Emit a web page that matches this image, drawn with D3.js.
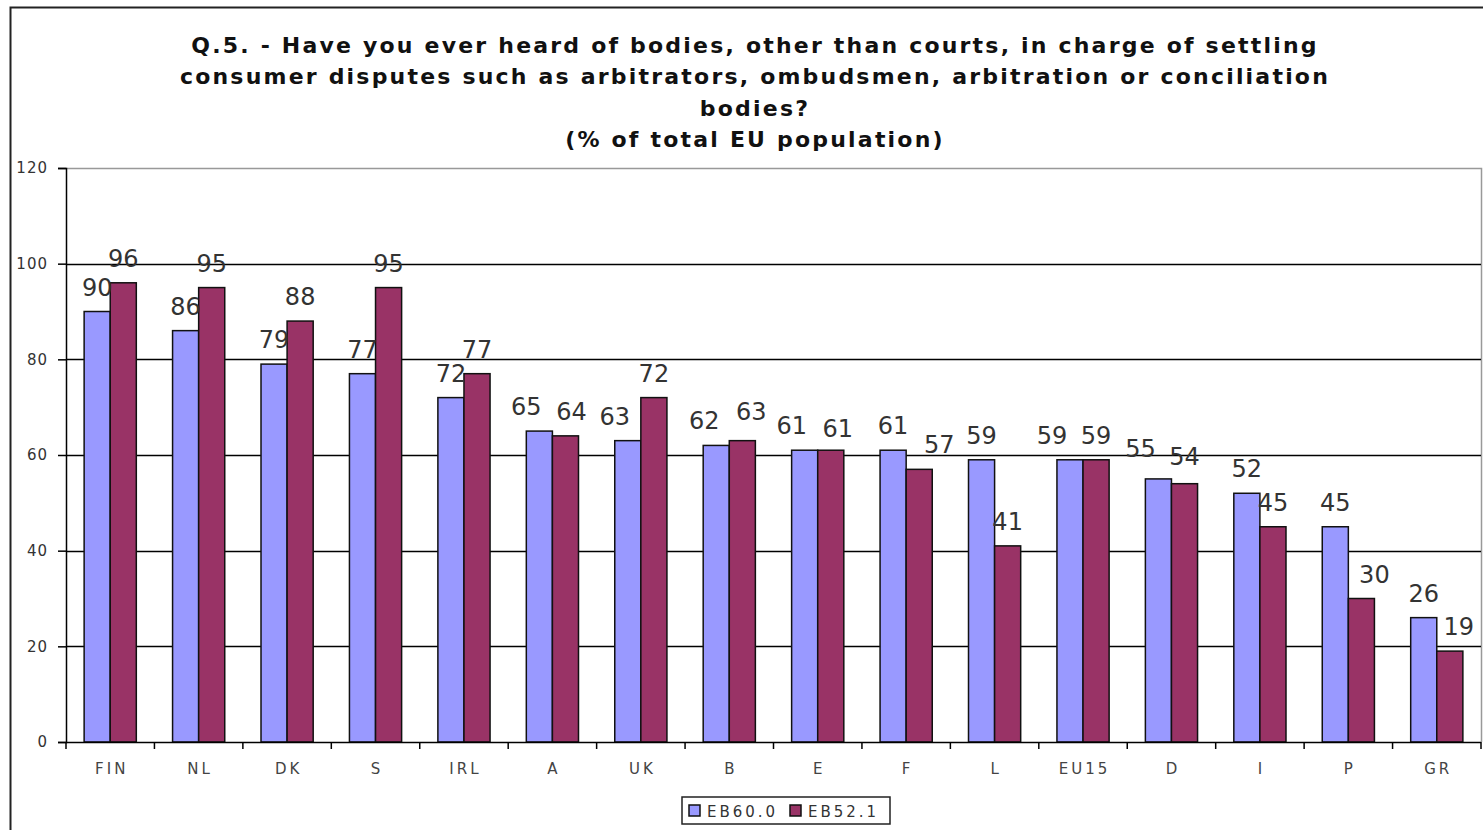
<!DOCTYPE html>
<html>
<head>
<meta charset="utf-8">
<script src="https://cdn.jsdelivr.net/npm/d3@7"></script>
<style>
  body { margin: 0; background: #fff; }
  svg { display: block; font-family: "DejaVu Sans", Verdana, sans-serif; }
</style>
</head>
<body>
<div id="chart"></div>
<script>
// chart data
var countries = ["FIN", "NL", "DK", "S", "IRL", "A", "UK", "B", "E", "F", "L", "EU15", "D", "I", "P", "GR"];
var eb600 = [90, 86, 79, 77, 72, 65, 63, 62, 61, 61, 59, 59, 55, 52, 45, 26];
var eb521 = [96, 95, 88, 95, 77, 64, 72, 63, 61, 57, 41, 59, 54, 45, 30, 19];
var seriesNames = ["EB60.0", "EB52.1"];
var yTicks = [0, 20, 40, 60, 80, 100, 120];
var titleLines = [
  "Q.5. - Have you ever heard of bodies, other than courts, in charge of settling",
  "consumer disputes such as arbitrators, ombudsmen, arbitration or conciliation",
  "bodies?",
  "(% of total EU population)"
];

// label nudges, as Excel placed some of the value labels off-centre
var labelNudge = {
  "0:A": [-13, 0], "0:UK": [-13, 0], "0:B": [-12, 0], "0:E": [-13, 0],
  "0:EU15": [-18, 0], "0:D": [-18, -6],
  "1:A": [6, 0], "1:B": [9, -5], "1:E": [7, 3], "1:F": [20, 0],
  "1:P": [13, 0], "1:GR": [9, 0], "1:D": [0, -3]
};

var width = 1483, height = 830;
var colors = ["#9999ff", "#993366"];

var plot = { left: 66, right: 1481, top: 168, bottom: 742 };

var svg = d3.select("#chart").append("svg")
    .attr("width", width)
    .attr("height", height);

// outer frame (left and top edges visible)
svg.append("path")
    .attr("d", "M10.5," + height + "V7.5H" + width)
    .attr("fill", "none")
    .attr("stroke", "#222")
    .attr("stroke-width", 2);

// title
svg.append("g").selectAll("text")
    .data(titleLines)
    .enter().append("text")
    .attr("x", 755)
    .attr("y", function(d, i) { return 53 + i * 31.3; })
    .attr("text-anchor", "middle")
    .style("font-size", "22px")
    .style("font-weight", "bold")
    .style("letter-spacing", "2.2px")
    .attr("fill", "#111")
    .text(function(d) { return d; });

var x = d3.scaleBand()
    .domain(countries)
    .range([plot.left, plot.right])
    .paddingInner(0.41)
    .paddingOuter(0.205);

var x1 = d3.scaleBand()
    .domain([0, 1])
    .range([0, x.bandwidth()]);

var y = d3.scaleLinear()
    .domain([0, 120])
    .range([plot.bottom, plot.top]);

// plot area border (top & right in grey)
svg.append("path")
    .attr("d", "M" + plot.left + "," + (plot.top + 0.5) + "H" + (plot.right + 0.5) + "V" + plot.bottom)
    .attr("fill", "none")
    .attr("stroke", "#999")
    .attr("stroke-width", 1.5);

// gridlines
svg.append("g").selectAll("line")
    .data(yTicks.filter(function(d) { return d > 0 && d < 120; }))
    .enter().append("line")
    .attr("x1", plot.left)
    .attr("x2", plot.right)
    .attr("y1", function(d) { return Math.round(y(d)) + 0.5; })
    .attr("y2", function(d) { return Math.round(y(d)) + 0.5; })
    .attr("stroke", "#000")
    .attr("stroke-width", 1.3);

// y axis
var yAxis = d3.axisLeft(y).tickValues(yTicks).tickSize(8).tickPadding(10);
var gy = svg.append("g")
    .attr("transform", "translate(" + plot.left + ",0)")
    .call(yAxis);
gy.select(".domain").attr("stroke", "#000").attr("stroke-width", 1.5);
gy.selectAll(".tick line").attr("stroke", "#000").attr("stroke-width", 1.5);
gy.selectAll("text")
    .style("font-size", "15px")
    .style("font-family", "\"DejaVu Sans\", Verdana, sans-serif")
    .style("letter-spacing", "1px")
    .attr("fill", "#333");

// bars
var groups = svg.append("g").selectAll("g")
    .data(countries)
    .enter().append("g")
    .attr("transform", function(d) { return "translate(" + x(d) + ",0)"; });

groups.selectAll("rect")
    .data(function(d, i) { return [eb600[i], eb521[i]]; })
    .enter().append("rect")
    .attr("x", function(d, j) { return x1(j); })
    .attr("y", function(d) { return y(d); })
    .attr("width", x1.bandwidth())
    .attr("height", function(d) { return y(0) - y(d); })
    .attr("fill", function(d, j) { return colors[j]; })
    .attr("stroke", "#111")
    .attr("stroke-width", 1.5);

groups.selectAll("text.val")
    .data(function(c, i) {
      return [eb600[i], eb521[i]].map(function(v, j) {
        return { v: v, j: j, n: labelNudge[j + ":" + c] || [0, 0] };
      });
    })
    .enter().append("text")
    .attr("class", "val")
    .attr("x", function(d) { return x1(d.j) + x1.bandwidth() / 2 + d.n[0]; })
    .attr("y", function(d) { return y(d.v) - 16 + d.n[1]; })
    .attr("text-anchor", "middle")
    .style("font-size", "24px")
    .attr("fill", "#333")
    .text(function(d) { return d.v; });

// x axis
var step = x.step();
var boundaries = d3.range(countries.length + 1).map(function(i) { return plot.left + i * step; });
var gx = svg.append("g");
gx.append("line")
    .attr("x1", plot.left)
    .attr("x2", plot.right)
    .attr("y1", plot.bottom + 0.5)
    .attr("y2", plot.bottom + 0.5)
    .attr("stroke", "#000")
    .attr("stroke-width", 1.5);
gx.selectAll("line.tick")
    .data(boundaries)
    .enter().append("line")
    .attr("class", "tick")
    .attr("x1", function(d) { return d; })
    .attr("x2", function(d) { return d; })
    .attr("y1", plot.bottom)
    .attr("y2", plot.bottom + 7)
    .attr("stroke", "#000")
    .attr("stroke-width", 1.5);
gx.selectAll("text")
    .data(countries)
    .enter().append("text")
    .attr("x", function(d) { return x(d) + x.bandwidth() / 2 + 1.5; })
    .attr("y", 774)
    .attr("text-anchor", "middle")
    .style("font-size", "15px")
    .style("letter-spacing", "3px")
    .attr("fill", "#444")
    .text(function(d) { return d; });

// legend
var lg = svg.append("g").attr("transform", "translate(682,797)");
lg.append("rect")
    .attr("width", 208)
    .attr("height", 27)
    .attr("fill", "#fff")
    .attr("stroke", "#222")
    .attr("stroke-width", 1.5);
var items = lg.selectAll("g.item")
    .data(seriesNames)
    .enter().append("g")
    .attr("class", "item")
    .attr("transform", function(d, i) { return "translate(" + (7 + i * 101) + ",0)"; });
items.append("rect")
    .attr("y", 8)
    .attr("width", 11)
    .attr("height", 11)
    .attr("fill", function(d, i) { return colors[i]; })
    .attr("stroke", "#111")
    .attr("stroke-width", 1.5);
items.append("text")
    .attr("x", 18)
    .attr("y", 20)
    .style("font-size", "15px")
    .style("letter-spacing", "3px")
    .attr("fill", "#333")
    .text(function(d) { return d; });
</script>
</body>
</html>
